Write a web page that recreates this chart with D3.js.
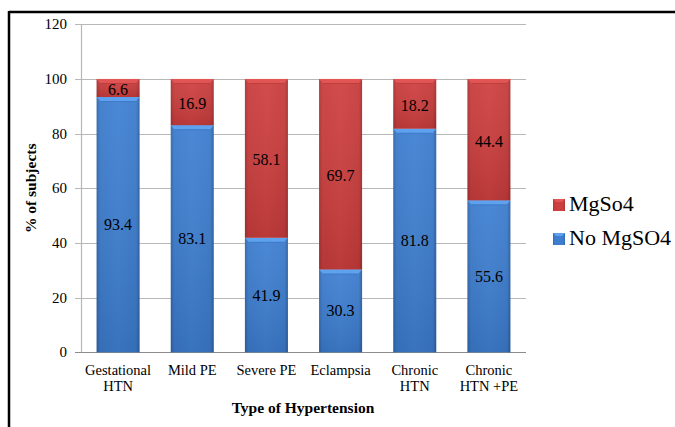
<!DOCTYPE html>
<html><head><meta charset="utf-8">
<script src="https://cdn.jsdelivr.net/npm/d3@7"></script>
<style>body{margin:0;background:#fff}</style>
</head><body><svg id="c" width="675" height="427"></svg>
<script>
const categories = [["Gestational","HTN"],["Mild PE"],["Severe PE"],["Eclampsia"],["Chronic","HTN"],["Chronic","HTN +PE"]];
const noMgSO4 = [93.4, 83.1, 41.9, 30.3, 81.8, 55.6];
const mgSo4 = [6.6, 16.9, 58.1, 69.7, 18.2, 44.4];
const yTicks = [0,20,40,60,80,100,120];
const seriesNames = ["MgSo4","No MgSO4"];

const FONT = '"Liberation Serif", monospace';
const svg = d3.select("#c");
const m = {l:81, r:526, t:24.3, b:352.3};
const x = d3.scaleBand().domain(d3.range(categories.length)).range([m.l, m.r]).paddingInner(0.42).paddingOuter(0.21);
const y = d3.scaleLinear().domain([0,120]).range([m.b, m.t]);

const defs = svg.append("defs");
function grad(id, stops){
  const g = defs.append("linearGradient").attr("id",id).attr("x1","0").attr("x2","1").attr("y1","0").attr("y2","0");
  stops.forEach(s=>g.append("stop").attr("offset",s[0]).attr("stop-color",s[1]));
}
grad("gBlue",[[0,"#2f64a8"],[0.08,"#3b7acb"],[0.5,"#3f80d2"],[0.92,"#3b7acb"],[1,"#2c5e9f"]]);
grad("gRed",[[0,"#a83232"],[0.08,"#c83c3c"],[0.5,"#cf4040"],[0.92,"#c63b3b"],[1,"#a33030"]]);
const vg = defs.append("linearGradient").attr("id","gShade").attr("x1","0").attr("x2","0").attr("y1","0").attr("y2","1");
vg.append("stop").attr("offset",0).attr("stop-color","#fff").attr("stop-opacity",0.06);
vg.append("stop").attr("offset",1).attr("stop-color","#000").attr("stop-opacity",0.1);

// border
svg.append("line").attr("x1",9).attr("x2",675).attr("y1",12).attr("y2",12).attr("stroke","#000").attr("stroke-width",2.5);
svg.append("line").attr("x1",9).attr("x2",9).attr("y1",11).attr("y2",427).attr("stroke","#000").attr("stroke-width",2.5);

// gridlines
svg.append("g").selectAll("line").data(yTicks).join("line")
  .attr("x1",m.l-6).attr("x2",m.r).attr("y1",d=>Math.round(y(d))+0.5).attr("y2",d=>Math.round(y(d))+0.5)
  .attr("stroke",d=>d===0?"#8c8c8c":"#b8b8b8").attr("stroke-width",1.2);
svg.append("line").attr("x1",m.l+0.5).attr("x2",m.l+0.5).attr("y1",m.t).attr("y2",m.b).attr("stroke","#b8b8b8").attr("stroke-width",1.2);

// y axis labels
svg.append("g").selectAll("text").data(yTicks).join("text")
  .attr("x",67).attr("y",d=>y(d)+5).attr("text-anchor","end").attr("font-size",15).attr("fill","#000")
  .style("font-family",FONT).text(d=>d);

const bw = x.bandwidth();
const bars = svg.append("g");
function segment(i, y0, y1, fill, bevel, bevelDark){
  const xx = x(i);
  const top = y(y1), bot = y(y0);
  bars.append("rect").attr("x",xx).attr("y",top).attr("width",bw).attr("height",bot-top).attr("fill",`url(#${fill})`);
  bars.append("rect").attr("x",xx).attr("y",top).attr("width",bw).attr("height",bot-top).attr("fill","url(#gShade)");
  const h = 4.5, ins = 4;
  bars.append("path").attr("d",`M${xx},${top}L${xx+bw},${top}L${xx+bw-ins},${top+h}L${xx+ins},${top+h}Z`).attr("fill",bevel);
  bars.append("line").attr("x1",xx+ins).attr("x2",xx+bw-ins).attr("y1",top+h).attr("y2",top+h).attr("stroke",bevelDark).attr("stroke-width",0.8);
}
categories.forEach((c,i)=>{
  segment(i, 0, noMgSO4[i], "gBlue", "#5ea2ef", "#3a74bd");
  segment(i, noMgSO4[i], noMgSO4[i]+mgSo4[i], "gRed", "#e25555", "#b83838");
});

// data labels
const lab = svg.append("g");
categories.forEach((c,i)=>{
  const cx = x(i)+bw/2;
  lab.append("text").attr("x",cx).attr("y",(y(0)+y(noMgSO4[i]))/2+5.5).text(noMgSO4[i].toFixed(1));
  lab.append("text").attr("x",cx).attr("y",(y(noMgSO4[i])+y(noMgSO4[i]+mgSo4[i]))/2+7).text(mgSo4[i].toFixed(1));
});
lab.selectAll("text").attr("font-size",16).attr("text-anchor","middle").attr("fill","#000").style("font-family",FONT);

// x labels
const xl = svg.append("g");
categories.forEach((c,i)=>{
  const t = xl.append("text").attr("x",x(i)+bw/2).attr("y",375).attr("font-size",14.5).attr("text-anchor","middle").attr("fill","#000").style("font-family",FONT);
  c.forEach((s,k)=>t.append("tspan").attr("x",x(i)+bw/2).attr("dy",k?15.5:0).text(s));
});

// axis titles
svg.append("text").attr("x",303).attr("y",413).attr("text-anchor","middle").attr("font-weight","bold").attr("font-size",15.5).style("font-family",FONT).text("Type of Hypertension");
svg.append("text").attr("transform",`translate(36,${(m.t+m.b)/2}) rotate(-90)`).attr("text-anchor","middle").attr("font-weight","bold").attr("font-size",15.5).style("font-family",FONT).text("% of subjects");

// legend
const leg = svg.append("g");
const legColors = [["gRed","#e25555"],["gBlue","#5ea2ef"]];
seriesNames.forEach((n,k)=>{
  const yy = 199 + k*34;
  leg.append("rect").attr("x",553).attr("y",yy).attr("width",12).attr("height",12).attr("fill",`url(#${legColors[k][0]})`);
  leg.append("path").attr("d",`M553,${yy}L565,${yy}L562,${yy+3}L556,${yy+3}Z`).attr("fill",legColors[k][1]);
  leg.append("text").attr("x",569).attr("y",yy+12).attr("font-size",22).attr("fill","#000").style("font-family",FONT).text(n);
});
</script></body></html>
